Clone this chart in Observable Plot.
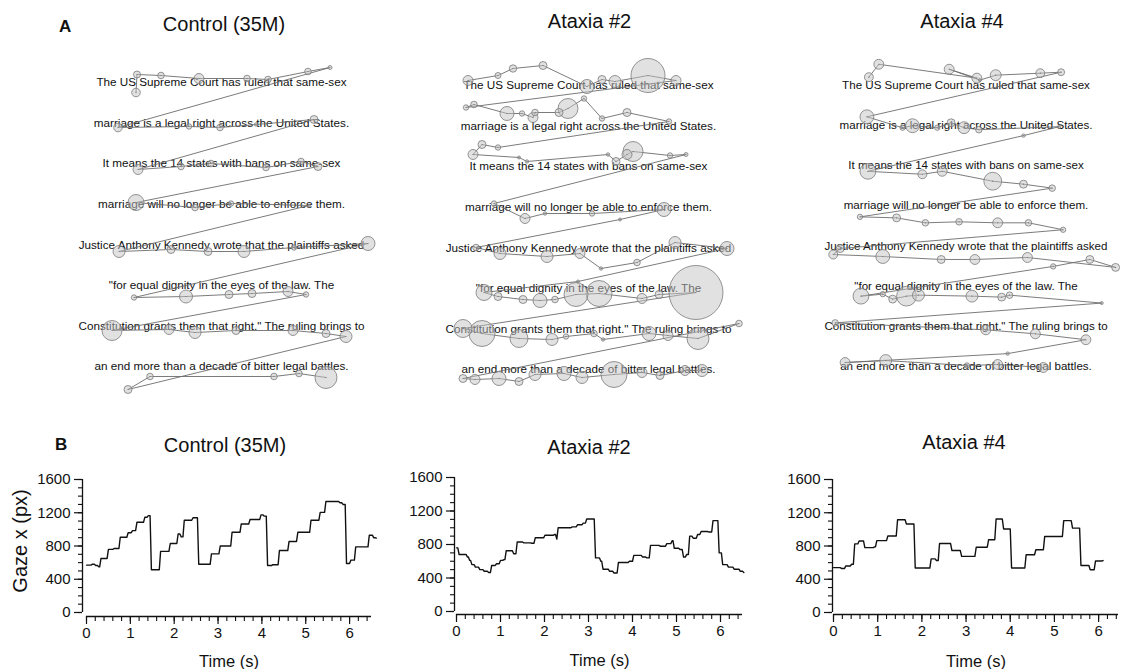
<!DOCTYPE html>
<html><head><meta charset="utf-8">
<script src="https://cdn.jsdelivr.net/npm/d3@7"></script>
<script src="https://cdn.jsdelivr.net/npm/@observablehq/plot@0.6"></script>
<style>
html,body{margin:0;padding:0;background:#fff;overflow:hidden;}
#fig{position:relative;width:1129px;height:669px;font-family:"Liberation Sans",Arial,sans-serif;color:#111;overflow:hidden;}
.t{position:absolute;white-space:nowrap;transform:translateX(-50%);line-height:24px;font-size:20px;}
.p{position:absolute;font-weight:bold;font-size:17px;line-height:20px;}
.panel{position:absolute;}
.panel svg{overflow:visible;}
</style></head><body><div id="fig"></div>
<script>
// ---------- DATA ----------
const subjects = ["Control (35M)", "Ataxia #2", "Ataxia #4"];
const sentences = [
  "The US Supreme Court has ruled that same-sex",
  "marriage is a legal right across the United States.",
  "It means the 14 states with bans on same-sex",
  "marriage will no longer be able to enforce them.",
  "Justice Anthony Kennedy wrote that the plaintiffs asked",
  "\"for equal dignity in the eyes of the law. The",
  "Constitution grants them that right.\" The ruling brings to",
  "an end more than a decade of bitter legal battles."
];
// fixations: [x offset from text centre (px), y offset from first line (px), radius (px)]
const fixControl = [
  [-85.5,10,4.3],[-84.5,-8,3.5],[-60.5,-7,3.3],[-22.5,-4,5],[25.5,-4,3.3],[46.5,-3,3.3],[86.5,-11,3.3],[108.5,-15,2],
  [-103.5,45,4.3],[-32.5,44,2.7],[-1.5,45,3.3],[34.5,42,1.7],[92.5,37,4],
  [-83.5,87,5],[-40.5,84,3.3],[-10.5,81,3.3],[44.5,85,3.3],[79.5,79,3.3],[96.5,84,4],
  [-85.5,120,8],[-26.5,125,3.3],[9.5,121,2.7],[87.5,123,1.5],
  [-102.5,169,6],[-50.5,167,4],[-13.5,169,4],[22.5,169,6],[72.5,165,2.7],[146.5,161,7],
  [-87.5,215,2.7],[-35.5,214,6.5],[7.5,212,4],[30.5,211,4],[66.5,209,5],[84.5,212,2.7],
  [-109.5,248,10],[-52.5,247,5],[-26.5,250,6],[14.5,248,4],[71.5,248,5],[104.5,251,4],[124.5,254,6],
  [-93.5,307,4],[-71.5,294,3.3],[52.5,294,3.3],[77.5,291,3.3],[104.5,295,11]
];
const fixAtaxia2 = [
  [-120.5,-5,5],[-90.5,-10,3],[-75.5,-17,3.7],[-45.5,-20,4],[-1.5,1,7],[13.5,-6,4],[26.5,-4,6],[59.5,-10,17],[87.5,-5,5],
  [-122.5,22,2.7],[-114.5,19,3.3],[-81.5,28,7],[-66.5,28,2.7],[-55.5,32,5],[-53.5,27,3.3],[-29.5,27,4],[-20.5,23,10],[-4.5,13,2.7],[13.5,33,2.7],[38.5,27,4],[80.5,36,2.7],
  [-90.5,62,2.7],[-106.5,59,4],[-115.5,69,5],[-69.5,72,1.5],[-61.5,76,1.7],[19.5,69,1.7],[27.5,76,4],[38.5,69,5],[44.5,66,10],[81.5,70,2.7],[97.5,69,2],
  [-94.5,118,2.7],[-63.5,133,5],[-43.5,128,1.7],[3.5,128,2.7],[75.5,124,7],[31.5,134,1.5],
  [-112.5,162,3.3],[-88.5,168,6],[-41.5,171,6],[-8.5,168,5],[12.5,183,1.7],[48.5,177,3.3],[86.5,157,6],[138.5,163,7],
  [-10.5,196,1.5],[-104.5,207,8],[-90.5,211,4],[-65.5,214,4],[-48.5,215,7],[-33.5,214,3.3],[-12.5,209,12],[10.5,208,13],[53.5,213,5],[70.5,209,4],[107.5,207,27],
  [-125.5,243,9],[-106.5,248,13],[-69.5,253,9],[-36.5,254,6],[-22.5,251,2.7],[5.5,248,3.3],[14.5,254,1.7],[60.5,248,7],[79.5,250,5],[109.5,253,11],[150.5,238,3.3],
  [-125.5,293,4],[-113.5,294,5],[-89.5,293,7],[-69.5,296,4],[-53.5,289,6],[-24.5,288,7],[-6.5,292,6],[25.5,289,13],[53.5,287,5],[71.5,290,4],[96.5,285,5],[113.5,285,6]
];
const fixAtaxia4 = [
  [-98,-8,4.5],[-88,-21,5],[11,-7,5],[-17,-16,5],[14,-5,1.5],[30,-10,5.5],[75,-12,4.5],[96,-13,3.5],
  [-100,32,7],[-64,43,2.7],[-54,41,7],[-29,43,2.7],[-15,38,4],[-2,43,6],[13,45,3.3],[94,42,1.7],[58,51,1.7],
  [-99,87,8],[-44,90,4.5],[-24,87,5],[27,97,9],[58,100,4],[87,104,3.3],
  [-107,133,2.7],[-70,134,4],[-41,139,3.3],[-7,138,3.3],[32,139,5],[63,139,3.3],[98,146,2.7],
  [-127,165,4],[-134,171,4.5],[-84,173,7],[-25,176,4],[9,176,5],[62,174,5],[151,184,4],[125,176,4],[88,183,2.7],
  [-106,213,8],[-84,211,2.7],[-74,216,4],[-60,213,10],[-48,212,6],[6,213,6],[36,214,4],[44,212,3.3],[137,220,1.5],
  [-132,240,3.3],[20,247,5],[70,251,5],[121,257,5],[42,271,1.7],
  [-122,280,5],[-81,278,6],[1,283,2.7],[32,282,5],[78,285,5]
];
// gaze x traces: [time (s), gaze x (px)] at the start of each fixation level; last = end of record
const gazeControl = [
  [0,570],[0.1,580],[0.18,565],[0.25,550],[0.3,650],[0.47,760],[0.6,770],[0.74,905],[0.92,960],[1.02,985],
  [1.12,1085],[1.3,1145],[1.38,1165],[1.45,515],[1.66,735],[1.88,830],[2.06,945],[2.13,910],[2.2,1110],[2.4,1140],
  [2.53,580],[2.82,705],[3.02,800],[3.29,965],[3.5,1065],[3.7,1118],[3.95,1175],[4.02,1160],[4.1,565],[4.22,575],
  [4.37,745],[4.59,855],[4.79,965],[5.09,1110],[5.3,1205],[5.43,1335],[5.75,1320],[5.82,1300],[5.9,590],[6.0,630],
  [6.11,790],[6.42,930],[6.52,900],[6.58,895]
];
const gazeAtaxia2 = [
  [0,760],[0.03,680],[0.22,650],[0.27,610],[0.32,560],[0.4,530],[0.5,500],[0.6,480],[0.7,465],[0.77,550],
  [0.88,570],[0.97,610],[1.05,620],[1.1,725],[1.27,690],[1.35,830],[1.5,820],[1.68,815],[1.76,880],[1.98,910],
  [2.2,920],[2.25,865],[2.28,1000],[2.6,1010],[2.72,1035],[2.85,1055],[2.93,1105],[3.13,640],[3.25,600],[3.3,505],
  [3.45,480],[3.55,460],[3.65,585],[3.9,600],[4.0,670],[4.2,650],[4.3,640],[4.38,790],[4.6,780],[4.75,810],
  [4.87,845],[4.92,755],[5.05,740],[5.13,650],[5.2,680],[5.27,900],[5.35,875],[5.45,920],[5.53,955],[5.7,950],
  [5.8,1085],[5.94,700],[6.02,560],[6.15,530],[6.28,505],[6.42,480],[6.5,465]
];
const gazeAtaxia4 = [
  [0,540],[0.15,530],[0.25,560],[0.38,580],[0.45,825],[0.55,860],[0.68,780],[0.9,790],[0.95,865],[1.2,920],
  [1.42,1115],[1.62,1065],[1.82,535],[2.18,645],[2.3,625],[2.37,830],[2.65,745],[2.87,675],[3.2,785],[3.48,875],
  [3.65,1125],[3.82,1005],[4.0,535],[4.33,695],[4.55,755],[4.75,915],[5.18,1105],[5.38,1015],[5.57,565],[5.78,515],
  [5.9,620],[6.07,625]
];
const yMajor = [0, 400, 800, 1200, 1600];
const yMinor = d3.range(0, 1601, 100);
const xMajor = [0, 1, 2, 3, 4, 5, 6];

// ---------- LAYOUT ----------
const FONT = '"Liberation Sans", Arial, sans-serif';
const fig = document.getElementById("fig");
function addDiv(cls, text, left, top) {
  const d = document.createElement("div");
  d.className = cls; d.textContent = text;
  d.style.left = left + "px"; d.style.top = top + "px";
  fig.appendChild(d);
}
addDiv("p", "A", 59, 17);
addDiv("p", "B", 55, 435);
const titleA = [[224, 12], [589.5, 9], [962, 9]];
const titleB = [[225, 433], [589, 435], [964, 430]];
subjects.forEach((s, i) => { addDiv("t", s, titleA[i][0], titleA[i][1]); addDiv("t", s, titleB[i][0], titleB[i][1]); });

const lineGap = 40.6;
function scanpath(fix) {
  return Plot.plot({
    width: 330, height: 360, margin: 0,
    x: {domain: [-165, 165], axis: null},
    y: {domain: [-45, 315], reverse: true, axis: null},
    r: {type: "identity"},
    style: {fontFamily: FONT, background: "transparent", overflow: "visible"},
    marks: [
      Plot.text(sentences, {x: () => 0, y: (d, i) => i * lineGap, text: d => d, fontSize: 11.7, fill: "#111"}),
      Plot.line(fix, {x: d => d[0], y: d => d[1], stroke: "#6c6c6c", strokeWidth: 0.9}),
      Plot.dot(fix, {x: d => d[0], y: d => d[1], r: d => d[2], fill: "#c4c4c4", fillOpacity: 0.5, stroke: "#7a7a7a", strokeWidth: 0.8}),
      Plot.dot(fix, {x: d => d[0], y: d => d[1], r: 0.6, fill: "#777"})
    ]
  });
}
const panelA = [[fixControl, 220.5, 82], [fixAtaxia2, 587.5, 85], [fixAtaxia4, 967, 85]];
panelA.forEach(([fix, cx, y0]) => {
  const d = document.createElement("div");
  d.className = "panel";
  d.style.left = (cx - 165) + "px"; d.style.top = (y0 - 45) + "px";
  d.appendChild(scanpath(fix));
  fig.appendChild(d);
});

function stepPoints(gz) {
  const ramp = 0.03, pts = [];
  gz.forEach(([t, g], i) => {
    pts.push({t: i ? t + ramp : t, g});
    if (i < gz.length - 1) pts.push({t: gz[i + 1][0], g});
  });
  return pts;
}
function trace(gz, o) {
  const xmax = o.xmax;
  const xMinor = d3.range(0, Math.floor(xmax * 5 + 1e-9) + 1).map(k => k / 5);
  return Plot.plot({
    width: o.width, height: 199,
    marginLeft: 80, marginRight: o.mr, marginTop: o.mt, marginBottom: o.mb,
    x: {domain: [0, xmax]},
    y: {domain: [0, 1600]},
    style: {fontFamily: FONT, fontSize: "15px", color: "#111", background: "transparent", overflow: "visible"},
    marks: [
      Plot.ruleX([0], {y1: () => 0, y2: () => 1600, dx: -o.gy, stroke: "#111", strokeWidth: 1.3}),
      Plot.ruleY([0], {x1: () => 0, x2: () => xmax, dy: o.gx, stroke: "#111", strokeWidth: 1.3}),
      Plot.axisY(yMinor, {tickSize: 4, dx: -o.gy, tickFormat: () => "", label: null, strokeWidth: 1.1}),
      Plot.axisY(yMajor, {tickSize: 8, dx: -o.gy, tickPadding: 4, tickFormat: d => String(d), fontSize: 15, label: null, strokeWidth: 1.2}),
      Plot.axisX(xMinor, {tickSize: 5, dy: o.gx, tickFormat: () => "", label: null, strokeWidth: 1.1}),
      Plot.axisX(xMajor, {tickSize: 8, dy: o.gx, tickPadding: 3, tickFormat: d => String(d), fontSize: 15, label: null, strokeWidth: 1.2}),
      Plot.line(stepPoints(gz), {x: "t", y: "g", stroke: "#111", strokeWidth: 1.4}),
      Plot.text(["Time (s)"], {frameAnchor: "bottom", textAnchor: "middle", lineAnchor: "middle", dy: 49, fontSize: 16.5, fill: "#111"}),
      o.ylabel ? Plot.text(["Gaze x (px)"], {frameAnchor: "left", textAnchor: "middle", lineAnchor: "middle", dx: -66, dy: -5, rotate: -90, fontSize: 20, fill: "#111"}) : null
    ]
  });
}
const panelB = [
  [gazeControl, {left: 6, width: 385, xmax: 6.5, mr: 20, mt: 9, mb: 57, gy: 4, gx: 4, ylabel: true}],
  [gazeAtaxia2, {left: 376, width: 386, xmax: 6.5, mr: 20, mt: 7, mb: 58, gy: 2, gx: 3, ylabel: false}],
  [gazeAtaxia4, {left: 753, width: 375, xmax: 6.45, mr: 10, mt: 9, mb: 57, gy: 1, gx: 2, ylabel: false}]
];
panelB.forEach(([gz, o]) => {
  const d = document.createElement("div");
  d.className = "panel";
  d.style.left = o.left + "px"; d.style.top = "470px";
  d.appendChild(trace(gz, o));
  fig.appendChild(d);
});
</script></body></html>
